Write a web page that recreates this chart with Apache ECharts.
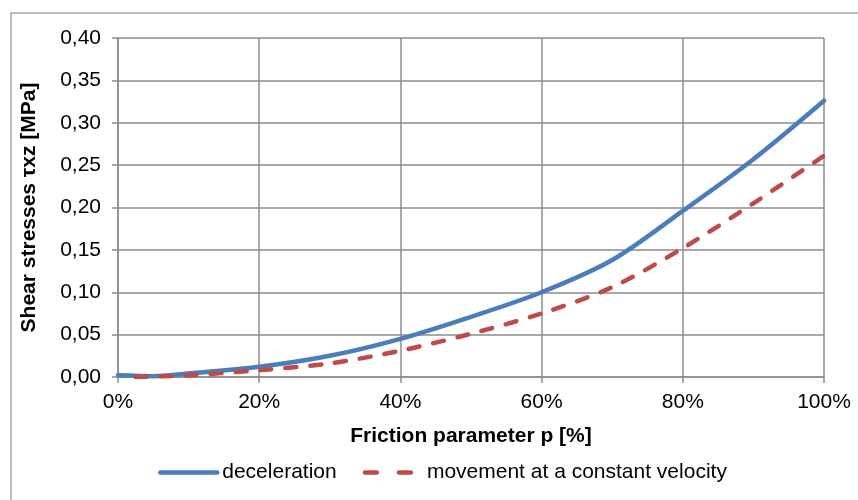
<!DOCTYPE html>
<html>
<head>
<meta charset="utf-8">
<script src="https://cdn.jsdelivr.net/npm/echarts@6/dist/echarts.min.js"></script>
<style>
html,body{margin:0;padding:0;background:#fff;}
#c{width:858px;height:500px;}
</style>
</head>
<body>
<div id="c"></div>
<script>
var seriesNames = ['deceleration', 'movement at a constant velocity'];
var decelX = [0, 5, 10, 20, 30, 40, 50, 60, 70, 80, 90, 100];
var decelY = [0.002, 0.001, 0.004, 0.012, 0.025, 0.045, 0.071, 0.100, 0.138, 0.196, 0.257, 0.326];
var constX = [2.5, 5, 10, 20, 30, 40, 50, 60, 70, 80, 90, 100];
var constY = [0.000, 0.0005, 0.002, 0.008, 0.016, 0.031, 0.051, 0.075, 0.106, 0.152, 0.205, 0.261];
var xTitle = 'Friction parameter p [%]';
var yTitle = 'Shear stresses \u03c4xz [MPa]';

function pairs(xs, ys){ return xs.map(function(x,i){ return [x, ys[i]]; }); }

var font = 'Arial, "Liberation Sans", sans-serif';
var gridColor = '#8c8c8c';
var chart = echarts.init(document.getElementById('c'), null, {renderer:'canvas'});
chart.setOption({
  backgroundColor: '#fff',
  animation: false,
  textStyle: {fontFamily: font},
  graphic: [{
    type: 'rect', silent: true,
    shape: {x: 11, y: 13, width: 900, height: 600},
    style: {fill: 'none', stroke: '#a6a6a6', lineWidth: 1.5}
  }],
  grid: {left: 118, right: 34, top: 38, bottom: 123},
  xAxis: {
    type: 'value', min: 0, max: 100, interval: 20,
    name: xTitle, nameLocation: 'middle', nameGap: 49,
    nameTextStyle: {fontSize: 21, fontWeight: 'bold', color: '#000', fontFamily: font},
    axisLine: {show: true, lineStyle: {color: gridColor, width: 1.5}},
    axisTick: {show: true, length: 6, lineStyle: {color: gridColor, width: 1.5}},
    axisLabel: {formatter: '{value}%', fontSize: 21, color: '#000', margin: 15, fontFamily: font},
    splitLine: {show: true, lineStyle: {color: gridColor, width: 1.5}}
  },
  yAxis: {
    type: 'value', min: 0, max: 0.4, interval: 0.05,
    name: yTitle, nameLocation: 'middle', nameGap: 78, nameRotate: 90,
    nameTextStyle: {fontSize: 21, fontWeight: 'bold', color: '#000', fontFamily: font},
    axisLine: {show: true, lineStyle: {color: gridColor, width: 1.5}},
    axisTick: {show: true, length: 6, lineStyle: {color: gridColor, width: 1.5}},
    axisLabel: {formatter: function(v){ return v.toFixed(2).replace('.', ','); }, fontSize: 21, color: '#000', margin: 17, fontFamily: font},
    splitLine: {show: true, lineStyle: {color: gridColor, width: 1.5}}
  },
  legend: {
    bottom: 12, left: 153,
    itemWidth: 57, itemHeight: 14, itemGap: 26,
    itemStyle: {opacity: 0},
    lineStyle: {width: 4.5, cap: 'round'},
    textStyle: {fontSize: 21, color: '#000', fontFamily: font},
    data: [
      {name: seriesNames[0]},
      {name: seriesNames[1], lineStyle: {width: 4.5, type: [12, 22], cap: 'round'}}
    ]
  },
  series: [{
    name: seriesNames[0], type: 'line', smooth: 0.3, showSymbol: false, symbol: 'none',
    data: pairs(decelX, decelY),
    lineStyle: {color: '#4a7ebb', width: 4.5, cap: 'round'},
    itemStyle: {color: '#4a7ebb'}
  }, {
    name: seriesNames[1], type: 'line', smooth: 0.3, showSymbol: false, symbol: 'none',
    data: pairs(constX, constY),
    lineStyle: {color: '#be4b48', width: 4.5, type: [11, 14], cap: 'round'},
    itemStyle: {color: '#be4b48'}
  }]
});
</script>
</body>
</html>
